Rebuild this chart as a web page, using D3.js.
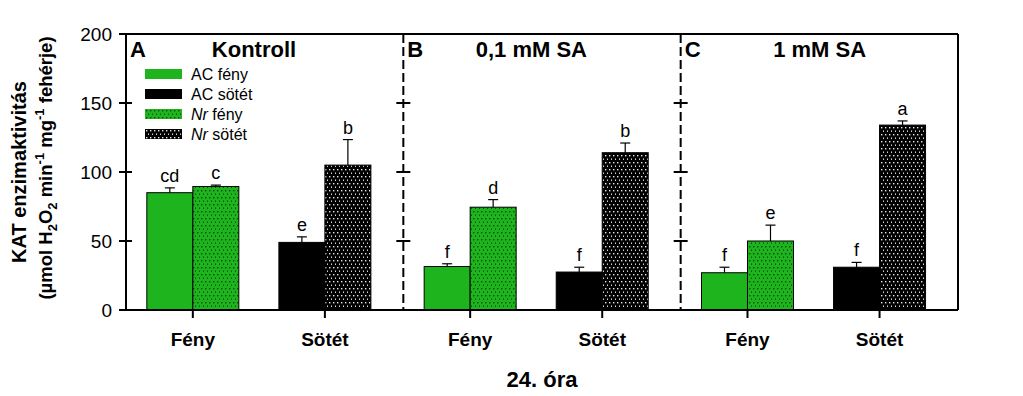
<!DOCTYPE html>
<html lang="hu">
<head>
<meta charset="UTF-8">
<title>KAT enzimaktivitás</title>
<script src="https://cdn.jsdelivr.net/npm/d3@7"></script>
<style>
  body { margin: 0; background: #fff; }
  text { font-family: "Liberation Sans", Arial, sans-serif; }
</style>
</head>
<body>
<script>
  // panels and categories
  var panels = ["Kontroll", "0,1 mM SA", "1 mM SA"];
  var panelLetters = ["A", "B", "C"];
  var groups = ["Fény", "Sötét"];
  var genotypes = ["AC", "Nr"];
  var legendLabels = ["AC fény", "AC sötét", "Nr fény", "Nr sötét"];
  var yTicks = [0, 50, 100, 150, 200];

  // values (one entry per panel)
  var acFeny = [85, 31.5, 27];
  var nrFeny = [89.5, 74.5, 50];
  var acSotet = [49, 27.5, 31];
  var nrSotet = [105, 114, 134];

  var acFenyErr = [3.5, 2, 4];
  var nrFenyErr = [1, 5.5, 11.5];
  var acSotetErr = [4, 3.5, 3.5];
  var nrSotetErr = [18.5, 7, 3];

  var acFenyLet = ["cd", "f", "f"];
  var nrFenyLet = ["c", "d", "e"];
  var acSotetLet = ["e", "f", "f"];
  var nrSotetLet = ["b", "b", "a"];

  drawChart();

  function drawChart() {
    var width = 1023, height = 396;
    var left = 126, right = 958, top = 34, bottom = 310;

    var svg = d3.select("body").append("svg")
      .attr("width", width)
      .attr("height", height);

    var defs = svg.append("defs");
    makeDots("dotGreen", "#1db41d", "#0b4f0b");
    makeDots("dotBlack", "#000000", "#e6e6e6");

    function makeDots(id, bg, dot) {
      var p = defs.append("pattern")
        .attr("id", id)
        .attr("patternUnits", "userSpaceOnUse")
        .attr("width", 4)
        .attr("height", 7);
      p.append("rect").attr("width", 4).attr("height", 7).attr("fill", bg);
      p.append("rect").attr("x", 1).attr("y", 1).attr("width", 1.4).attr("height", 1.4).attr("fill", dot);
      p.append("rect").attr("x", 3).attr("y", 4.5).attr("width", 1.4).attr("height", 1.4).attr("fill", dot);
    }

    var fills = {
      "AC fény": "#1db41d",
      "AC sötét": "#000000",
      "Nr fény": "url(#dotGreen)",
      "Nr sötét": "url(#dotBlack)"
    };

    var yScale = d3.scaleLinear().domain([0, 200]).range([bottom, top]);
    var xPanel = d3.scaleBand().domain(panels).range([left, right]);
    var xGroup = d3.scalePoint().domain(groups).range([0, xPanel.bandwidth()])
      .padding(0.55).align(0.46);
    var xBar = d3.scaleBand().domain(genotypes).range([-46, 46]);

    // rows of bar data built from the arrays
    var bars = [];
    panels.forEach(function (p, i) {
      bars.push({panel: p, group: "Fény", gen: "AC", key: "AC fény", v: acFeny[i], e: acFenyErr[i], l: acFenyLet[i]});
      bars.push({panel: p, group: "Fény", gen: "Nr", key: "Nr fény", v: nrFeny[i], e: nrFenyErr[i], l: nrFenyLet[i]});
      bars.push({panel: p, group: "Sötét", gen: "AC", key: "AC sötét", v: acSotet[i], e: acSotetErr[i], l: acSotetLet[i]});
      bars.push({panel: p, group: "Sötét", gen: "Nr", key: "Nr sötét", v: nrSotet[i], e: nrSotetErr[i], l: nrSotetLet[i]});
    });

    function barX(d) {
      return xPanel(d.panel) + xGroup(d.group) + xBar(d.gen);
    }

    // error bars (drawn first, bars on top)
    bars.forEach(function (d) {
      var cx = barX(d) + xBar.bandwidth() / 2;
      svg.append("line")
        .attr("x1", cx).attr("x2", cx)
        .attr("y1", yScale(d.v)).attr("y2", yScale(d.v + d.e))
        .attr("stroke", "#000").attr("stroke-width", 1.2);
      svg.append("line")
        .attr("x1", cx - 5).attr("x2", cx + 5)
        .attr("y1", yScale(d.v + d.e)).attr("y2", yScale(d.v + d.e))
        .attr("stroke", "#000").attr("stroke-width", 1.2);
      svg.append("text")
        .attr("x", cx)
        .attr("y", yScale(d.v + d.e) - 6)
        .attr("text-anchor", "middle")
        .attr("font-size", 18)
        .text(d.l);
    });

    svg.selectAll("rect.bar")
      .data(bars)
      .enter().append("rect")
      .attr("class", "bar")
      .attr("x", barX)
      .attr("y", function (d) { return yScale(d.v); })
      .attr("width", xBar.bandwidth())
      .attr("height", function (d) { return yScale(0) - yScale(d.v); })
      .attr("fill", function (d) { return fills[d.key]; })
      .attr("stroke", "#000")
      .attr("stroke-width", 1);

    // frame
    drewLine(left, top, right, top, 2);
    drewLine(left, bottom, right, bottom, 2);
    drewLine(left, top, left, bottom, 2);
    drewLine(right, top, right, bottom, 2);

    // dashed dividers
    panels.slice(1).forEach(function (p) {
      var x = xPanel(p);
      drewLine(x, top, x, bottom, 2).attr("stroke-dasharray", "9,4");
      yTicks.slice(1, -1).forEach(function (t) {
        drewLine(x - 7, yScale(t), x + 7, yScale(t), 2);
      });
    });

    // left axis ticks + labels
    yTicks.forEach(function (t) {
      var inner = (t > 0 && t < 200) ? 6 : 0;
      drewLine(left - 7, yScale(t), left + inner, yScale(t), 2);
      svg.append("text")
        .attr("x", 112)
        .attr("y", yScale(t))
        .attr("dy", "0.35em")
        .attr("text-anchor", "end")
        .attr("font-size", 19)
        .text(t);
    });

    // bottom ticks, labels and panel titles
    var titleOffset = [128, 128, 139];
    panels.forEach(function (p, i) {
      groups.forEach(function (g) {
        var x = xPanel(p) + xGroup(g);
        drewLine(x, bottom, x, bottom + 8, 2);
        svg.append("text")
          .attr("x", x)
          .attr("y", 346)
          .attr("text-anchor", "middle")
          .attr("font-size", 19)
          .attr("font-weight", "bold")
          .text(g);
      });
      svg.append("text")
        .attr("x", xPanel(p) + 4)
        .attr("y", 57)
        .attr("font-size", 22)
        .attr("font-weight", "bold")
        .text(panelLetters[i]);
      svg.append("text")
        .attr("x", xPanel(p) + titleOffset[i])
        .attr("y", 57)
        .attr("text-anchor", "middle")
        .attr("font-size", 22)
        .attr("font-weight", "bold")
        .text(p);
    });

    svg.append("text")
      .attr("x", (left + right) / 2)
      .attr("y", 387)
      .attr("text-anchor", "middle")
      .attr("font-size", 22)
      .attr("font-weight", "bold")
      .text("24. óra");

    // legend
    var leg = svg.append("g").attr("transform", "translate(145,69)");
    legendLabels.forEach(function (k, i) {
      var row = leg.append("g").attr("transform", "translate(0," + (i * 20) + ")");
      row.append("rect")
        .attr("width", 37).attr("height", 10)
        .attr("fill", fills[k]);
      var t = row.append("text")
        .attr("x", 46).attr("y", 5)
        .attr("dy", "0.35em")
        .attr("font-size", 16);
      var parts = k.split(" ");
      t.append("tspan").attr("font-style", parts[0] === "Nr" ? "italic" : "normal").text(parts[0]);
      t.append("tspan").text(" " + parts[1]);
    });

    // y axis title
    svg.append("text")
      .attr("transform", "translate(26," + ((top + bottom) / 2) + ") rotate(-90)")
      .attr("text-anchor", "middle")
      .attr("font-size", 20)
      .attr("font-weight", "bold")
      .text("KAT enzimaktivitás");

    var yt2 = svg.append("text")
      .attr("transform", "translate(52," + ((top + bottom) / 2 - 4) + ") rotate(-90)")
      .attr("text-anchor", "middle")
      .attr("font-size", 18.5)
      .attr("font-weight", "bold");
    yt2.append("tspan").text("(\u00b5mol H");
    yt2.append("tspan").attr("font-size", 13).attr("dy", 5).text("2");
    yt2.append("tspan").attr("dy", -5).text("O");
    yt2.append("tspan").attr("font-size", 13).attr("dy", 5).text("2");
    yt2.append("tspan").attr("dy", -5).text(" min");
    yt2.append("tspan").attr("font-size", 13).attr("dy", -8).text("-1");
    yt2.append("tspan").attr("dy", 8).text(" mg");
    yt2.append("tspan").attr("font-size", 13).attr("dy", -8).text("-1");
    yt2.append("tspan").attr("dy", 8).text(" fehérje)");

    function drewLine(x1, y1, x2, y2, w) {
      return svg.append("line")
        .attr("x1", x1).attr("y1", y1)
        .attr("x2", x2).attr("y2", y2)
        .attr("stroke", "#000")
        .attr("stroke-width", w);
    }
  }
</script>
</body>
</html>
